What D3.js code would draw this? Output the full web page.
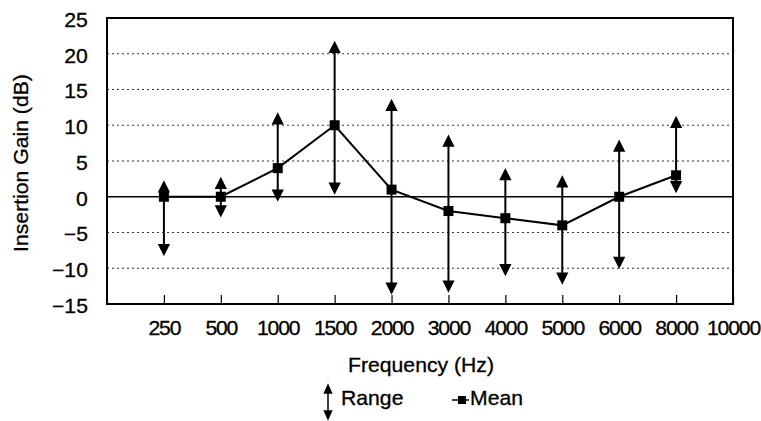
<!DOCTYPE html>
<html>
<head>
<meta charset="utf-8">
<script src="https://cdn.jsdelivr.net/npm/d3@7"></script>
<style>
    body { margin: 0; background: #fff; }
    svg { display: block; font-family: "Liberation Sans", Arial, sans-serif; }
    svg text { stroke: #000; stroke-width: 0.3; }
    .grid { stroke: #333; stroke-width: 1.2; stroke-dasharray: 2,3; }
</style>
</head>
<body>
<div id="chart"></div>
<script>
// frequencies on the category axis (10000 has no measurement)
const categories = ['250', '500', '1000', '1500', '2000', '3000', '4000', '5000', '6000', '8000', '10000'];
const meanGain = [0, 0, 4, 10, 1, -2, -3, -4, 0, 3];
const rangeHigh = [2, 2.5, 11.5, 21.5, 13.4, 8.4, 3.7, 2.7, 7.7, 11];
const rangeLow = [-8, -2.6, -0.4, 0.6, -13.4, -13.1, -10.8, -12, -9.8, 0.8];
const yTicks = [-15, -10, -5, 0, 5, 10, 15, 20, 25];

const width = 761, height = 421;
const plotLeft = 107, plotRight = 733, plotTop = 18, plotBottom = 304;
const fontSize = 20;
const stretch = 1.06;   // the scanned lettering is a bit wider than Arial

const svg = d3.select('#chart')
    .append('svg')
    .attr('width', width)
    .attr('height', height);

// one empty slot before 250 so the first point sits one step in from the edge
const xScale = d3.scaleLinear()
    .domain([-1, categories.length - 1])
    .range([plotLeft, plotRight]);

const yScale = d3.scaleLinear()
    .domain([-15, 25])
    .range([plotBottom, plotTop]);

// dotted gridlines
svg.selectAll('line.grid')
    .data(yTicks.filter(d => d !== 0 && d !== -15 && d !== 25))
    .enter()
    .append('line')
    .attr('class', 'grid')
    .attr('x1', plotLeft)
    .attr('x2', plotRight)
    .attr('y1', d => yScale(d))
    .attr('y2', d => yScale(d));

// zero line
svg.append('line')
    .attr('x1', plotLeft)
    .attr('x2', plotRight)
    .attr('y1', yScale(0))
    .attr('y2', yScale(0))
    .attr('stroke', '#000')
    .attr('stroke-width', 1.5);

// y axis
const yAxis = svg.append('g')
    .attr('transform', 'translate(' + plotLeft + ',0)')
    .call(d3.axisLeft(yScale).tickValues(yTicks).tickSize(0).tickPadding(18));
yAxis.select('.domain').remove();
yAxis.selectAll('text')
    .attr('dy', '0.42em')
    .attr('transform', 'scale(' + stretch + ',1)')
    .attr('font-size', fontSize)
    .attr('font-family', '"Liberation Sans", Arial, sans-serif')
    .attr('fill', '#000');

// x axis, ticks pointing up into the plot
const xAxis = svg.append('g')
    .attr('transform', 'translate(0,' + plotBottom + ')')
    .call(d3.axisBottom(xScale)
        .tickValues(d3.range(categories.length))
        .tickFormat(i => categories[i])
        .tickSizeInner(-9)
        .tickSizeOuter(0)
        .tickPadding(17));
xAxis.select('.domain').remove();
xAxis.selectAll('.tick line').attr('stroke', '#000').attr('stroke-width', 1.2);
xAxis.selectAll('text')
    .attr('transform', 'scale(' + stretch + ',1)')
    .attr('letter-spacing', -1.1)
    .attr('font-size', fontSize)
    .attr('font-family', '"Liberation Sans", Arial, sans-serif')
    .attr('fill', '#000');

// plot frame
svg.append('rect')
    .attr('x', plotLeft)
    .attr('y', plotTop)
    .attr('width', plotRight - plotLeft)
    .attr('height', plotBottom - plotTop)
    .attr('fill', 'none')
    .attr('stroke', '#000')
    .attr('stroke-width', 2);

// axis titles
svg.append('text')
    .attr('transform', 'translate(28,' + ((plotTop + plotBottom) / 2 + 2) + ') rotate(-90) scale(' + stretch + ',1)')
    .attr('text-anchor', 'middle')
    .attr('font-size', fontSize)
    .text('Insertion Gain (dB)');

svg.append('text')
    .attr('transform', 'translate(421,372) scale(' + stretch + ',1)')
    .attr('text-anchor', 'middle')
    .attr('font-size', fontSize)
    .text('Frequency (Hz)');

// double headed arrow path from y1 (top) to y2 (bottom)
const arrow = (cx, y1, y2, hw, hh) => {
    return 'M' + cx + ',' + (y1 + hh - 1) + 'L' + cx + ',' + (y2 - hh + 1) +
        'M' + (cx - hw) + ',' + (y1 + hh) + 'L' + cx + ',' + y1 + 'L' + (cx + hw) + ',' + (y1 + hh) + 'Z' +
        'M' + (cx - hw) + ',' + (y2 - hh) + 'L' + cx + ',' + y2 + 'L' + (cx + hw) + ',' + (y2 - hh) + 'Z';
};

svg.selectAll('path.range')
    .data(meanGain)
    .enter()
    .append('path')
    .attr('class', 'range')
    .attr('d', (d, i) => arrow(xScale(i), yScale(rangeHigh[i]), yScale(rangeLow[i]), 4.5, 9))
    .attr('fill', '#000')
    .attr('stroke', '#000')
    .attr('stroke-width', 2);

// mean line and markers
const line = d3.line()
    .x((d, i) => xScale(i))
    .y(d => yScale(d));

svg.append('path')
    .datum(meanGain)
    .attr('d', line)
    .attr('fill', 'none')
    .attr('stroke', '#000')
    .attr('stroke-width', 2);

svg.selectAll('rect.mean')
    .data(meanGain)
    .enter()
    .append('rect')
    .attr('class', 'mean')
    .attr('x', (d, i) => xScale(i) - 5)
    .attr('y', d => yScale(d) - 5)
    .attr('width', 10)
    .attr('height', 10)
    .attr('fill', '#000');

// legend
const legend = svg.append('g');
legend.append('path')
    .attr('d', arrow(328, 385, 419, 3.5, 8))
    .attr('fill', '#000')
    .attr('stroke', '#000')
    .attr('stroke-width', 1.5);
legend.append('text')
    .attr('transform', 'translate(341,405) scale(' + stretch + ',1)')
    .attr('font-size', fontSize)
    .text('Range');
legend.append('line')
    .attr('x1', 452)
    .attr('x2', 469)
    .attr('y1', 400)
    .attr('y2', 400)
    .attr('stroke', '#000')
    .attr('stroke-width', 1.5);
legend.append('rect')
    .attr('x', 458)
    .attr('y', 396)
    .attr('width', 8)
    .attr('height', 8)
    .attr('fill', '#000');
legend.append('text')
    .attr('transform', 'translate(470,405) scale(' + stretch + ',1)')
    .attr('font-size', fontSize)
    .text('Mean');
</script>
</body>
</html>
